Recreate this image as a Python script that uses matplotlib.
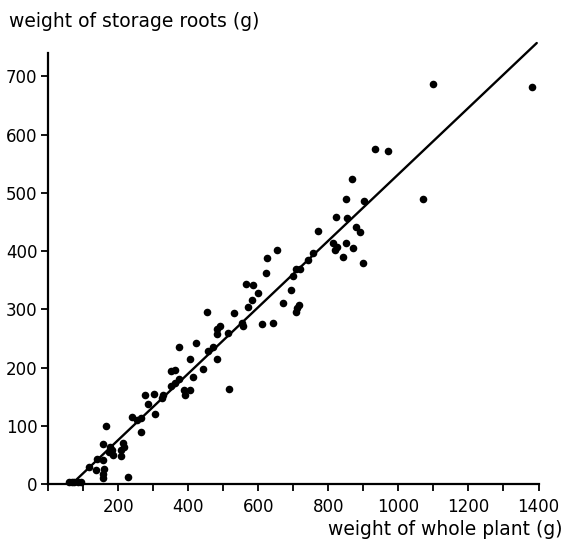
import matplotlib
matplotlib.use("Agg")
import matplotlib.pyplot as plt
import numpy as np
from matplotlib.ticker import MultipleLocator

# whole plant weight (g) vs storage root weight (g)
whole_plant = [
    1098, 1381, 933, 970, 866, 850, 901, 1071, 821, 852,
    879, 890, 814, 823, 819, 849, 871, 841, 899, 769,
    652, 623, 756, 741, 621, 707, 720, 699, 563, 583,
    599, 692, 581, 569, 669, 716, 711, 708, 531, 452,
    553, 557, 611, 642, 490, 481, 482, 512, 469, 457,
    421, 373, 405, 482, 442, 414, 351, 362, 374, 361,
    349, 386, 390, 404, 517, 328, 324, 276, 285, 302,
    305, 239, 263, 254, 165, 264, 155, 176, 181, 174,
    185, 212, 216, 206, 207, 157, 138, 117, 159, 136,
    157, 157, 226, 58, 66, 74, 83, 92,
]
storage_roots = [
    687, 681, 576, 572, 523, 490, 486, 490, 459, 456,
    442, 432, 413, 407, 401, 413, 405, 389, 380, 435,
    401, 388, 397, 385, 362, 370, 370, 357, 344, 341,
    328, 333, 316, 304, 311, 307, 302, 296, 293, 296,
    277, 271, 274, 277, 271, 266, 257, 259, 235, 228,
    242, 236, 215, 215, 197, 183, 194, 195, 181, 174,
    169, 161, 153, 161, 163, 152, 147, 153, 138, 155,
    120, 115, 114, 110, 100, 90, 68, 64, 58, 55,
    50, 70, 64, 58, 48, 42, 43, 29, 25, 24,
    18, 11, 12, 4, 4, 4, 4, 3,
]

# fitted regression line: roots = SLOPE * plant + INTERCEPT
SLOPE, INTERCEPT = 0.57, -38.0
line_x = np.array([80.0, 1395.0])

XTICKS = [200, 400, 600, 800, 1000, 1200, 1400]
YTICKS = [0, 100, 200, 300, 400, 500, 600, 700]

plt.rcParams["font.family"] = ["DejaVu Sans"]

fig = plt.figure(figsize=(5.65, 5.42), dpi=100, facecolor="white")
ax = fig.add_axes([0.0858, 0.1070, 0.8673, 0.7952])

ax.plot(line_x, SLOPE * line_x + INTERCEPT, color="black", linewidth=1.7,
        solid_capstyle="round", clip_on=False, zorder=2)
ax.scatter(whole_plant, storage_roots, s=30, color="black", linewidths=0,
           clip_on=False, zorder=3)

ax.set_xlim(0, 1400)
ax.set_ylim(0, 740)
ax.set_xticks(XTICKS)
ax.set_yticks(YTICKS)
ax.xaxis.set_minor_locator(MultipleLocator(100))
ax.tick_params(axis="x", which="both", direction="out", length=5, width=1.3,
               pad=5, labelsize=12)
ax.tick_params(axis="y", which="both", direction="out", length=5, width=1.3,
               pad=3, labelsize=12)

for side in ("top", "right"):
    ax.spines[side].set_visible(False)
for side in ("left", "bottom"):
    ax.spines[side].set_linewidth(1.6)

fig.text(9 / 565, 1 - 27 / 542, "weight of storage roots (g)", fontsize=13.5,
         ha="left", va="baseline")
fig.text(563 / 565, 1 - 535 / 542, "weight of whole plant (g)", fontsize=13.5,
         ha="right", va="baseline")

fig.savefig("out.png", dpi=100, facecolor="white")
